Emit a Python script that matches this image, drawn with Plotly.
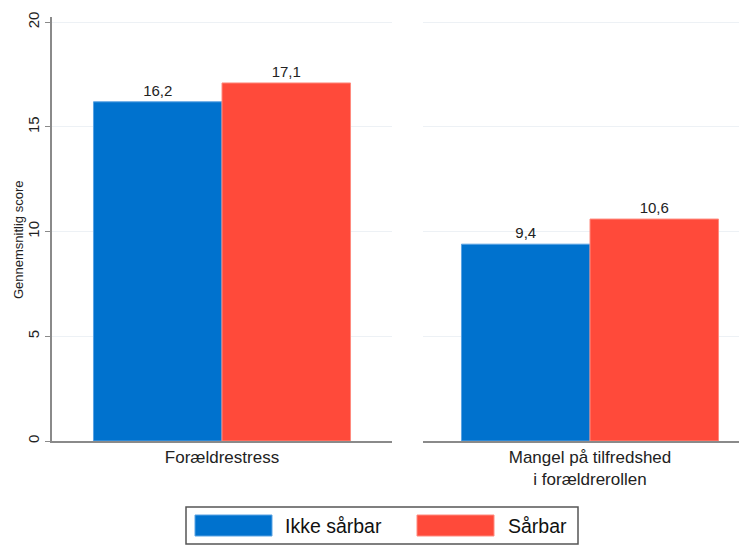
import plotly.graph_objects as go

# Data
categories = ["Forældrestress", "Mangel på tilfredshed<br>i forældrerollen"]
groups = ["Ikke sårbar", "Sårbar"]
ikke_saarbar = [16.2, 9.4]
saarbar = [17.1, 10.6]
y_ticks = [0, 5, 10, 15, 20]
y_title = "Gennemsnitlig score"

colors = ["#0072CE", "#FF4A3A"]
edge_colors = ["#5AA3E3", "#FF8A7E"]

W, H = 747, 545
OFF = 8  # page offset of the figure in the screenshot
ML, MR, MT, MB = 44, 0, 9, 112
PW, PH = W - ML - MR, H - MT - MB


def px(x):
    # reference screen x -> paper x
    return (x - OFF - ML) / PW


def py(y):
    # reference screen y -> paper y
    return (H - MB - (y - OFF)) / PH


def fmt(v):
    return f"{v:.1f}".replace(".", ",")


fig = go.Figure()
for i, cat in enumerate(categories):
    axis_suffix = "" if i == 0 else str(i + 1)
    for g, vals in enumerate([ikke_saarbar, saarbar]):
        fig.add_trace(go.Bar(
            x=[cat],
            y=[vals[i]],
            name=groups[g],
            marker=dict(color=colors[g], line=dict(color=edge_colors[g], width=1)),
            text=[fmt(vals[i])],
            textposition="outside",
            textfont=dict(size=15, color="#222"),
            cliponaxis=False,
            showlegend=False,
            xaxis="x" + axis_suffix,
            yaxis="y" + axis_suffix,
        ))

grid = "#EDF1F5"
yaxis_common = dict(
    range=[0, 20.25],
    tickvals=y_ticks,
    showgrid=True,
    gridcolor=grid,
    gridwidth=1,
    zeroline=False,
    domain=[0, 1],
)
xaxis_common = dict(
    showline=True,
    linecolor="#8A8A8A",
    linewidth=1.5,
    ticks="",
    tickfont=dict(size=17, color="#222"),
    showgrid=False,
)

fig.update_layout(
    width=W,
    height=H,
    margin=dict(l=ML, r=MR, t=MT, b=MB),
    paper_bgcolor="white",
    plot_bgcolor="white",
    font=dict(family="Liberation Sans, Arial, sans-serif", color="#222"),
    barmode="group",
    bargap=0.244,
    bargroupgap=0,
    showlegend=False,
    xaxis=dict(
        **xaxis_common,
        domain=[0, px(392)],
        range=[-0.5, 0.5],
    ),
    xaxis2=dict(
        **xaxis_common,
        domain=[px(423), 1],
        range=[-(590 - 423) / 340, (OFF + W - 590) / 340],
        anchor="y2",
    ),
    yaxis=dict(
        **yaxis_common,
        showline=True,
        linecolor="#8A8A8A",
        linewidth=1.5,
        ticks="outside",
        ticklen=5,
        tickcolor="#8A8A8A",
        tickangle=-90,
        tickfont=dict(size=15, color="#222"),
    ),
    yaxis2=dict(
        **yaxis_common,
        anchor="x2",
        showline=False,
        showticklabels=False,
        ticks="",
    ),
)

# y axis title placed as in the reference
fig.add_annotation(xref="paper", yref="paper", x=px(18), y=py(240),
                   text=y_title, textangle=-90, showarrow=False,
                   xanchor="center", yanchor="middle",
                   font=dict(size=13, color="#222"))

# Stata-style legend box with wide swatches
fig.add_shape(type="rect", xref="paper", yref="paper",
              x0=px(186), x1=px(578), y0=py(544), y1=py(507),
              line=dict(color="#555", width=1.5), fillcolor="white")
swatches = [(195, 272, 283), (417, 494, 506)]
for g, (sx0, sx1, tx) in enumerate(swatches):
    fig.add_shape(type="rect", xref="paper", yref="paper",
                  x0=px(sx0), x1=px(sx1), y0=py(536), y1=py(515),
                  line=dict(color=edge_colors[g], width=1), fillcolor=colors[g])
    fig.add_annotation(xref="paper", yref="paper", x=px(tx), y=py(525.5),
                       text=groups[g], showarrow=False, xanchor="left", yanchor="middle",
                       font=dict(size=19.5, color="#111"))

fig.write_html("out.html")
